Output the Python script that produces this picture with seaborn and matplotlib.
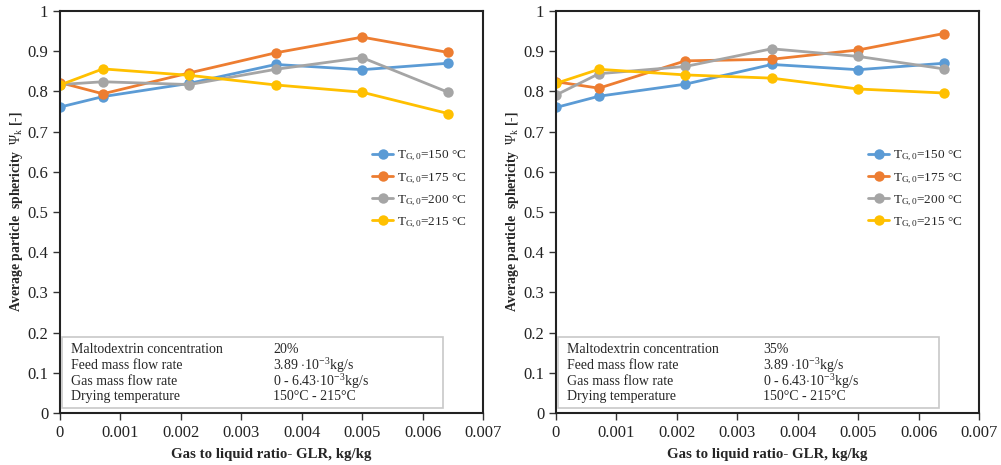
import matplotlib
matplotlib.use("Agg")
import matplotlib.pyplot as plt
import matplotlib.patches as patches
from matplotlib.ticker import FuncFormatter
import seaborn as sns
import pandas as pd

# -----------------------------
# data
# -----------------------------
glr = [0, 0.00071, 0.00214, 0.00357, 0.005, 0.00642]
temps = ["150", "175", "200", "215"]

# 20% maltodextrin
psi_20 = {
    "150": [0.761, 0.787, 0.820, 0.867, 0.854, 0.870],
    "175": [0.822, 0.794, 0.846, 0.896, 0.935, 0.897],
    "200": [0.817, 0.824, 0.817, 0.855, 0.884, 0.798],
    "215": [0.816, 0.856, 0.840, 0.816, 0.798, 0.745],
}
# 35% maltodextrin
psi_35 = {
    "150": [0.760, 0.788, 0.818, 0.867, 0.854, 0.870],
    "175": [0.824, 0.808, 0.876, 0.880, 0.903, 0.944],
    "200": [0.791, 0.844, 0.862, 0.906, 0.887, 0.856],
    "215": [0.820, 0.855, 0.841, 0.833, 0.806, 0.796],
}
concentrations = ["20%", "35%"]
info_labels = ["Maltodextrin concentration", "Feed mass flow rate",
               "Gas mass flow rate", "Drying temperature"]

colors = ["#5B9BD5", "#ED7D31", "#A5A5A5", "#FFC000"]

sns.set_style("ticks")
plt.rcParams["font.family"] = ["Liberation Serif", "DejaVu Serif"]
plt.rcParams["mathtext.fontset"] = "custom"
plt.rcParams["mathtext.rm"] = "Liberation Serif"
plt.rcParams["mathtext.it"] = "Liberation Serif:italic"
plt.rcParams["mathtext.bf"] = "Liberation Serif:bold"


def label(t):
    return r"T$_{\mathrm{G,0}}$=" + t + " °C"


def long_form(psi):
    rows = []
    for t in temps:
        for x, y in zip(glr, psi[t]):
            rows.append({"GLR": x, "psi": y, "T": label(t)})
    return pd.DataFrame(rows)


fig = plt.figure(figsize=(10.01, 4.65), dpi=100)
W, H = 1001, 465
axes = [fig.add_axes([60 / W, 52 / H, 423 / W, 402 / H]),
        fig.add_axes([556 / W, 52 / H, 423 / W, 402 / H])]

for ax, psi, conc, col2 in zip(axes, [psi_20, psi_35], concentrations, [0.504, 0.489]):
    df = long_form(psi)
    sns.lineplot(data=df, x="GLR", y="psi", hue="T", palette=colors,
                 marker="o", markersize=7.5, markeredgewidth=0, linewidth=2,
                 sort=False, ax=ax)

    ax.set_xlim(0, 0.007)
    ax.set_ylim(0, 1)
    ax.set_xticks([i * 0.001 for i in range(8)])
    ax.set_yticks([i * 0.1 for i in range(11)])
    ax.xaxis.set_major_formatter(FuncFormatter(lambda v, p: "0" if v == 0 else f"{v:.3f}"))
    ax.yaxis.set_major_formatter(FuncFormatter(lambda v, p: "0" if v == 0 else ("1" if abs(v - 1) < 1e-9 else f"{v:.1f}")))
    ax.tick_params(labelsize=12, length=5, width=1, colors="#333333", labelcolor="#222222")
    for s in ax.spines.values():
        s.set_visible(True)
        s.set_color("#222222")
        s.set_linewidth(1.5)

    ax.set_xlabel("Gas to liquid ratio- GLR, kg/kg", fontsize=10.7, fontweight="bold", labelpad=5)
    ax.set_ylabel(r"Average particle  sphericity  $\Psi_{\mathrm{k}}$ [-]",
                  fontsize=9.8, fontweight="bold", labelpad=2)

    leg = ax.legend(loc="center left", bbox_to_anchor=(0.71, 0.556), frameon=False,
                    fontsize=9.5, handlelength=1.6, handletextpad=0.3, labelspacing=0.6)

    # info box
    ax.add_patch(patches.Rectangle((0.005, 0.012), 0.9, 0.178, transform=ax.transAxes,
                                   facecolor="white", edgecolor="#C8C8C8", linewidth=1.2, zorder=3))
    values = [conc, r"3.89 $\cdot$10$^{-3}$kg/s", r"0 - 6.43$\cdot$10$^{-3}$kg/s",
              "150°C - 215°C"]
    for i, (lab, val) in enumerate(zip(info_labels, values)):
        y = 0.157 - i * 0.039
        ax.text(0.026, y, lab, transform=ax.transAxes, fontsize=10, va="center", zorder=4)
        ax.text(col2, y, val, transform=ax.transAxes, fontsize=10, va="center", zorder=4)

fig.savefig("out.png", dpi=100)
